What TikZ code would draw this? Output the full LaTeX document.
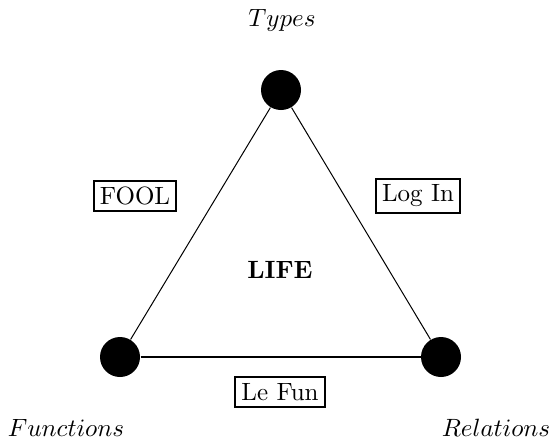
\documentclass[tikz,border=0pt]{standalone}
\usepackage{tikz}

\begin{document}
\begin{tikzpicture}[x=0.4pt,y=-0.4pt,
    dot/.style     = {circle,fill=black,minimum size=16pt,inner sep=0pt},
    corner/.style  = {font=\normalsize},
    bridge/.style  = {draw,line width=0.8pt,inner sep=2.5pt},
  ]
  \useasboundingbox (0,0) rectangle (551,442);
  % the three corners
  \node[dot](T) at (281,90)  {};
  \node[dot](F) at (120,357) {};
  \node[dot](R) at (441,357) {};
  \node[corner](types) at (282,20)  {$Types$};
  \node[corner](funs)  at (66,428)  {$Functions$};
  \node[corner](rels)  at (496,428) {$Relations$};
  % sides
  \draw[line width=0.4pt] (T) -- (F);
  \draw[line width=0.4pt] (T) -- (R);
  \draw[line width=0.8pt] (F) -- (R);
  % languages on the sides
  \node[bridge](fool)  at (135,196) {FOOL};
  \node[bridge](login) at (418,196) {Log In};
  \node[bridge](lefun) at (280,392) {Le Fun};
  \node(life) at (280,270) {\textbf{LIFE}};
\end{tikzpicture}
\end{document}
